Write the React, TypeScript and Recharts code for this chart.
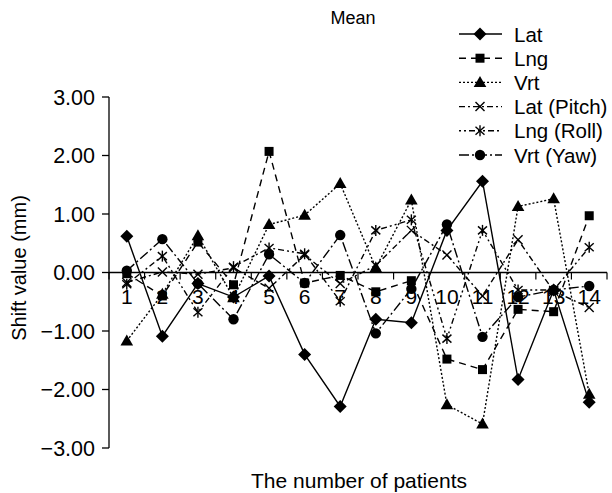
import React from "react";
import { LineChart, Line, XAxis, YAxis, ReferenceLine } from "recharts";

// values (mm), patients 1..14
const patients = ["1", "2", "3", "4", "5", "6", "7", "8", "9", "10", "11", "12", "13", "14"];
const lat = [0.62, -1.09, -0.19, -0.42, -0.06, -1.4, -2.29, -0.8, -0.86, 0.72, 1.56, -1.83, -0.3, -2.22];
const lng = [-0.02, -0.4, 0.52, -0.21, 2.07, -0.18, -0.05, -0.33, -0.14, -1.48, -1.66, -0.63, -0.67, 0.97];
const vrt = [-1.17, -0.37, 0.63, -0.43, 0.82, 0.98, 1.52, 0.08, 1.24, -2.26, -2.59, 1.13, 1.26, -2.08];
const latPitch = [-0.17, 0.01, -0.03, 0.08, -0.27, 0.3, -0.19, 0.12, 0.72, 0.3, -0.4, 0.56, -0.32, -0.6];
const lngRoll = [-0.2, 0.28, -0.68, 0.1, 0.42, 0.32, -0.49, 0.72, 0.9, -1.13, 0.72, -0.3, -0.3, 0.43];
const vrtYaw = [0.03, 0.57, -0.19, -0.8, 0.31, -0.18, 0.64, -1.04, -0.28, 0.82, -1.1, -0.42, -0.3, -0.23];
const yTicks = [3, 2, 1, 0, -1, -2, -3];

type MarkerKind = "diamond" | "square" | "triangle" | "cross" | "star" | "circle";

const series: { key: string; name: string; values: number[]; dash?: string; marker: MarkerKind }[] = [
  { key: "lat", name: "Lat", values: lat, marker: "diamond" },
  { key: "lng", name: "Lng", values: lng, dash: "7 5", marker: "square" },
  { key: "vrt", name: "Vrt", values: vrt, dash: "2 2", marker: "triangle" },
  { key: "latPitch", name: "Lat (Pitch)", values: latPitch, dash: "6 3 2 3", marker: "cross" },
  { key: "lngRoll", name: "Lng (Roll)", values: lngRoll, dash: "2 3 2 3 6 3", marker: "star" },
  { key: "vrtYaw", name: "Vrt (Yaw)", values: vrtYaw, dash: "10 3 2 3", marker: "circle" },
];

const data = patients.map((p, i) => {
  const row: Record<string, any> = { patient: p };
  series.forEach((s) => (row[s.key] = s.values[i]));
  return row;
});

const W = 612;
const H = 493;
const margin = { top: 97, right: 5, bottom: 15, left: 0 };
const yAxisW = 109;
const xAxisH = 30;
const plotTop = margin.top;
const plotBottom = H - margin.bottom - xAxisH;
const zeroY = plotTop + ((3 - 0) / 6) * (plotBottom - plotTop);
const band = (W - margin.right - yAxisW) / patients.length;
const FONT = "'Liberation Sans', Arial, Helvetica, sans-serif";

function Marker({ kind, cx, cy }: { kind: MarkerKind; cx: number; cy: number }) {
  switch (kind) {
    case "diamond":
      return <polygon points={`${cx},${cy - 6.5} ${cx + 6.5},${cy} ${cx},${cy + 6.5} ${cx - 6.5},${cy}`} fill="#000" />;
    case "square":
      return <rect x={cx - 4.5} y={cy - 4.5} width={9} height={9} fill="#000" />;
    case "triangle":
      return <polygon points={`${cx},${cy - 6.5} ${cx + 6.3},${cy + 4.5} ${cx - 6.3},${cy + 4.5}`} fill="#000" />;
    case "cross":
      return (
        <g stroke="#000" strokeWidth={1.4}>
          <line x1={cx - 4.5} y1={cy - 4.5} x2={cx + 4.5} y2={cy + 4.5} />
          <line x1={cx - 4.5} y1={cy + 4.5} x2={cx + 4.5} y2={cy - 4.5} />
        </g>
      );
    case "star":
      return (
        <g stroke="#000" strokeWidth={1.4}>
          <line x1={cx - 4.5} y1={cy - 4} x2={cx + 4.5} y2={cy + 4} />
          <line x1={cx - 4.5} y1={cy + 4} x2={cx + 4.5} y2={cy - 4} />
          <line x1={cx} y1={cy - 5.5} x2={cx} y2={cy + 5.5} />
        </g>
      );
    default:
      return <circle cx={cx} cy={cy} r={5.2} fill="#000" />;
  }
}

// x axis crosses at zero: ticks between categories, labels under the zero line
function PatientTick(props: any) {
  const { x, payload, index } = props;
  const last = index === patients.length - 1;
  return (
    <g>
      <line x1={x - band / 2} y1={zeroY} x2={x - band / 2} y2={zeroY + 7} stroke="#000" strokeWidth={1.2} />
      {last && <line x1={x + band / 2} y1={zeroY} x2={x + band / 2} y2={zeroY + 7} stroke="#000" strokeWidth={1.2} />}
      <text x={x} y={zeroY + 31} textAnchor="middle" fontSize={21} fill="#000" fontFamily={FONT}>
        {payload.value}
      </text>
    </g>
  );
}

const fmt = (v: number) => (v < 0 ? "\u2212" + Math.abs(v).toFixed(2) : v.toFixed(2));

export default function App() {
  const legendY0 = 34;
  const legendStep = 24.2;
  return (
    <div style={{ position: "absolute", left: 0, top: 0, width: W, height: H, fontFamily: FONT, background: "#fff" }}>
      <LineChart width={W} height={H} data={data} margin={margin}>
        <XAxis
          dataKey="patient"
          height={xAxisH}
          axisLine={false}
          tickLine={false}
          interval={0}
          padding={{ left: band / 2, right: band / 2 }}
          tick={(p: any) => <PatientTick {...p} />}
        />
        <YAxis
          width={yAxisW}
          domain={[-3, 3]}
          ticks={yTicks}
          interval={0}
          tickFormatter={fmt}
          tickSize={7}
          tickMargin={7}
          axisLine={{ stroke: "#000", strokeWidth: 1.3 }}
          tickLine={{ stroke: "#000", strokeWidth: 1.3 }}
          tick={{ fill: "#000", fontSize: 21.5, fontFamily: FONT }}
        />
        <ReferenceLine y={0} stroke="#000" strokeWidth={1.5} />
        {series.map((s) => (
          <Line
            key={s.key}
            dataKey={s.key}
            name={s.name}
            stroke="#000"
            strokeWidth={1.4}
            strokeDasharray={s.dash}
            isAnimationActive={false}
            dot={(p: any) => <Marker key={`${s.key}-${p.index}`} kind={s.marker} cx={p.cx} cy={p.cy} />}
            activeDot={false}
          />
        ))}
      </LineChart>
      <svg width={W} height={H} style={{ position: "absolute", left: 0, top: 0, pointerEvents: "none" }}>
        <text x={353} y={24} textAnchor="middle" fontSize={18} fill="#000" fontFamily={FONT}>
          Mean
        </text>
        <text
          x={26}
          y={268}
          transform="rotate(-90 26 268)"
          textAnchor="middle"
          fontSize={20}
          fill="#000"
          fontFamily={FONT}
        >
          Shift value (mm)
        </text>
        <text x={359} y={488} textAnchor="middle" fontSize={21} fill="#000" fontFamily={FONT}>
          The number of patients
        </text>
        {series.map((s, i) => {
          const y = legendY0 + i * legendStep;
          return (
            <g key={s.key}>
              <line x1={459} y1={y} x2={502} y2={y} stroke="#000" strokeWidth={1.4} strokeDasharray={s.dash} />
              <Marker kind={s.marker} cx={480} cy={y} />
              <text x={514} y={y + 7.5} fontSize={20.5} fill="#000" fontFamily={FONT}>
                {s.name}
              </text>
            </g>
          );
        })}
      </svg>
    </div>
  );
}
